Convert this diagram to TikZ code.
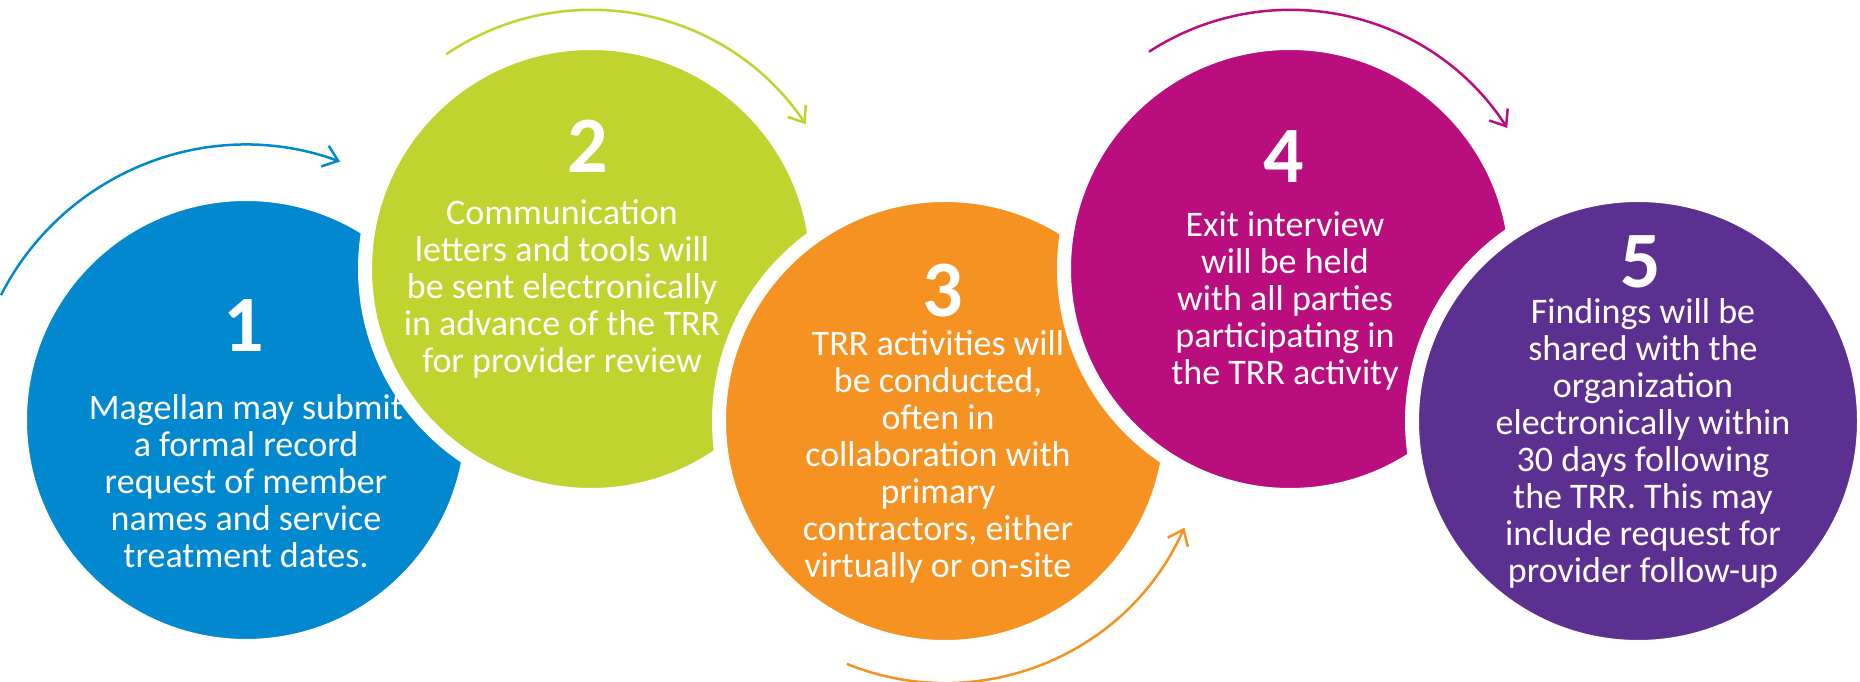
\documentclass[tikz,border=0pt]{standalone}
\usepackage{fontspec}
\setmainfont{Carlito}
\usetikzlibrary{arrows.meta}
\definecolor{cblue}{RGB}{2,136,206}
\definecolor{cgreen}{RGB}{192,211,46}
\definecolor{corange}{RGB}{246,146,33}
\definecolor{cmagenta}{RGB}{186,13,126}
\definecolor{cpurple}{RGB}{92,48,145}
\begin{document}
\begin{tikzpicture}[x=1pt,y=1pt,
  disc/.style={circle, minimum size=452pt, inner sep=0pt, draw=white, line width=14pt},
  num/.style={anchor=base, text=white, font=\fontsize{80}{80}\selectfont\bfseries, inner sep=0pt},
  body/.style={anchor=base, text=white, align=center, font=\fontsize{36}{37}\selectfont, inner sep=0pt},
  flow/.style={line width=2.5pt, -{Straight Barb[length=14pt,width=22pt,line width=2.5pt]}}
]
\useasboundingbox[fill=white] (0,0) rectangle (1860,682);
% circles
\node[disc, fill=cblue] (c1) at (246,262) {};
\node[disc, fill=cgreen] (c2) at (591,413) {};
\node[disc, fill=corange] (c3) at (945,261) {};
\node[disc, fill=cmagenta] (c4) at (1290,413) {};
\node[disc, fill=cpurple] (c5) at (1638,261) {};
% numbers
\node[num] (n1) at (244,330) {1};
\node[num] (n2) at (588,509) {2};
\node[num] (n3) at (943,365) {3};
\node[num] (n4) at (1284,499) {4};
\node[num] (n5) at (1641,394) {5};
% texts (anchored at the baseline of the last line)
\node[body] (t1) at (246,114) {Magellan may submit\\a formal record\\request of member\\names and service\\treatment dates.};
\node[body] (t2) at (562,309) {Communication\\letters and tools will\\be sent electronically\\in advance of the TRR\\for provider review};
\node[body] (t3) at (938,104) {TRR activities will\\be conducted,\\often in\\collaboration with\\primary\\contractors, either\\virtually or on-site};
\node[body] (t4) at (1285,297) {Exit interview\\will be held\\with all parties\\participating in\\the TRR activity};
\node[body] (t5) at (1643,99) {Findings will be\\shared with the\\organization\\electronically within\\30 days following\\the TRR. This may\\include request for\\provider follow-up};
% arrows
\draw[flow, cblue] ([shift={(153:275pt)}]c1.center) arc[start angle=153, end angle=70, radius=275pt];
\draw[flow, cgreen] ([shift={(124:259pt)}]c2.center) arc[start angle=124, end angle=34, radius=259pt];
\draw[flow, corange] ([shift={(-112:262pt)}]c3.center) arc[start angle=-112, end angle=-24, radius=262pt];
\draw[flow, cmagenta] ([shift={(123:259pt)}]c4.center) arc[start angle=123, end angle=33, radius=259pt];
\end{tikzpicture}
\end{document}
